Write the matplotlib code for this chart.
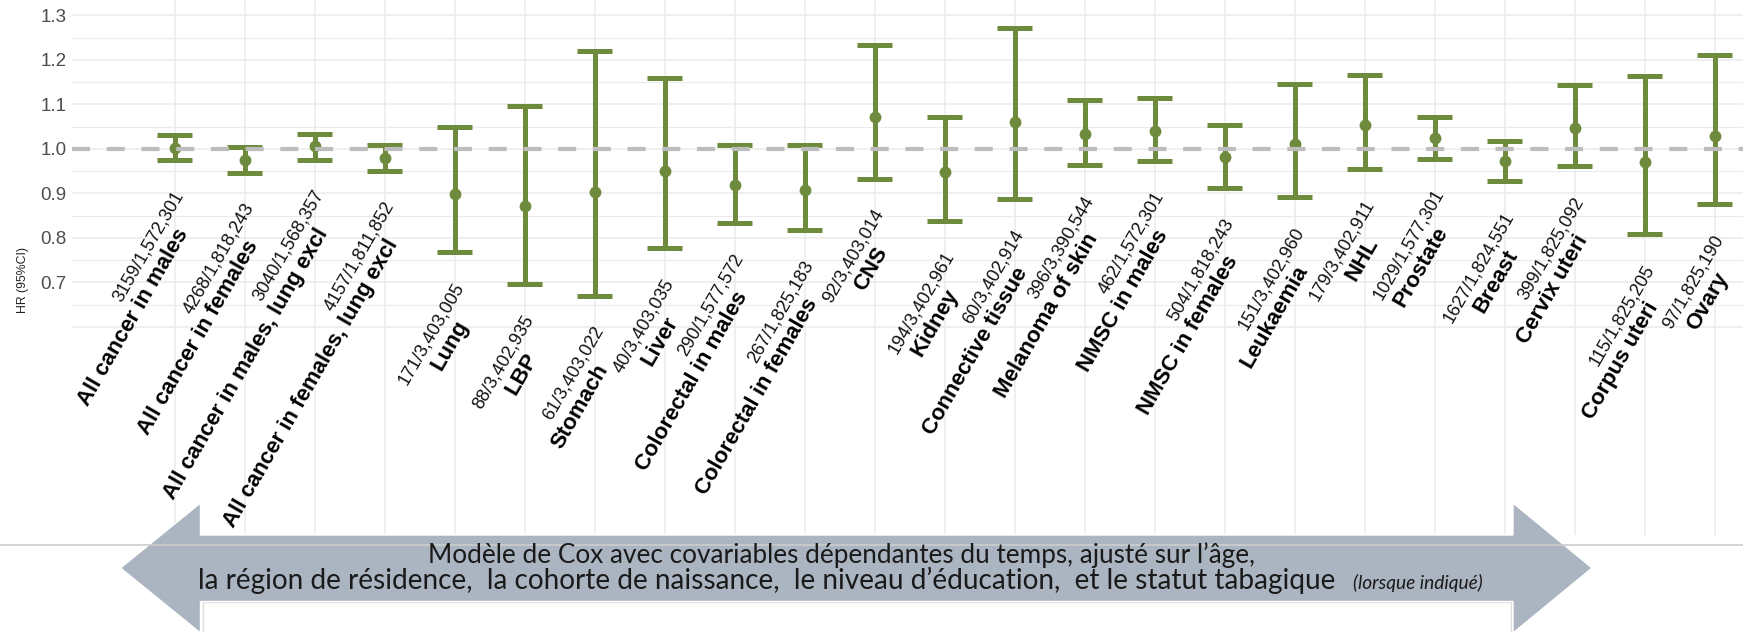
import matplotlib.pyplot as plt
from matplotlib.patches import Polygon, Rectangle

plt.rcParams['lines.scale_dashes'] = False

W, H = 1743, 632

# events / persons at risk
counts = ["3159/1,572,301", "4268/1,818,243", "3040/1,568,357", "4157/1,811,852",
          "171/3,403,005", "88/3,402,935", "61/3,403,022", "40/3,403,035",
          "290/1,577,572", "267/1,825,183", "92/3,403,014", "194/3,402,961",
          "60/3,402,914", "396/3,390,544", "462/1,572,301", "504/1,818,243",
          "151/3,402,960", "179/3,402,911", "1029/1,577,301", "1627/1,824,551",
          "399/1,825,092", "115/1,825,205", "97/1,825,190"]
names = ["All cancer in males", "All cancer in females",
         "All cancer in males, lung excl", "All cancer in females, lung excl",
         "Lung", "LBP", "Stomach", "Liver", "Colorectal in males",
         "Colorectal in females", "CNS", "Kidney", "Connective tissue",
         "Melanoma of skin", "NMSC in males", "NMSC in females", "Leukaemia",
         "NHL", "Prostate", "Breast", "Cervix uteri", "Corpus uteri", "Ovary"]
hr = [1.002, 0.975, 1.007, 0.979, 0.898, 0.873, 0.904, 0.950, 0.918, 0.908,
      1.073, 0.948, 1.061, 1.034, 1.041, 0.981, 1.012, 1.055, 1.024, 0.972,
      1.048, 0.970, 1.030]
lower = [0.975, 0.947, 0.976, 0.951, 0.769, 0.696, 0.670, 0.777, 0.834, 0.818,
         0.933, 0.839, 0.888, 0.963, 0.972, 0.913, 0.892, 0.954, 0.978, 0.928,
         0.961, 0.809, 0.876]
upper = [1.031, 1.004, 1.034, 1.008, 1.049, 1.096, 1.220, 1.160, 1.008, 1.008,
         1.234, 1.071, 1.271, 1.111, 1.114, 1.054, 1.146, 1.166, 1.073, 1.019,
         1.143, 1.164, 1.212]

y_major = [0.6, 0.7, 0.8, 0.9, 1.0, 1.1, 1.2, 1.3]
y_labels = ["", "0.7", "0.8", "0.9", "1.0", "1.1", "1.2", "1.3"]
y_minor = [0.65, 0.75, 0.85, 0.95, 1.05, 1.15, 1.25]

green = "#6E8B3D"
grid = "#ebebeb"

fig = plt.figure(figsize=(W / 100, H / 100), dpi=100)
ax = fig.add_axes([72 / W, 1 - 535 / H, 1 - 72 / W, 535 / H])
x = list(range(len(names)))

# grid
for v in y_major:
    ax.axhline(v, color=grid, lw=1.1, zorder=0)
for v in y_minor:
    ax.axhline(v, color=grid, lw=0.8, zorder=0)
for i in x:
    ax.axvline(i, color=grid, lw=1.1, zorder=0)

# error bars
ax.vlines(x, lower, upper, color=green, lw=3.6, zorder=2)
ax.hlines(lower, [i - 0.25 for i in x], [i + 0.25 for i in x], color=green, lw=3.6, zorder=2)
ax.hlines(upper, [i - 0.25 for i in x], [i + 0.25 for i in x], color=green, lw=3.6, zorder=2)
ax.plot(x, hr, 'o', color=green, ms=7.5, zorder=3)
ax.axhline(1.0, color="#bdbdbd", lw=3, dashes=(13, 12), zorder=4)

# labels under each bar
for i in x:
    ax.text(i + 0.07, lower[i] - 0.072, counts[i], rotation=60, rotation_mode='anchor',
            ha='right', va='center', fontsize=13, family='Liberation Sans',
            color='#111111', clip_on=True, zorder=1)
    ax.text(i + 0.12, lower[i] - 0.157, names[i], rotation=60, rotation_mode='anchor',
            ha='right', va='center', fontsize=16, fontweight='bold',
            family='Liberation Sans', color='#000000', clip_on=True, zorder=1)

ax.set_xlim(-1.47, 22.4)
ax.set_ylim(0.1326, 1.3348)
ax.set_xticks([])
ax.set_yticks(y_major)
ax.set_yticklabels(y_labels, fontsize=13.5, color='#4d4d4d', family='Liberation Sans')
ax.tick_params(axis='y', length=0, pad=4)
for s in ax.spines.values():
    s.set_visible(False)

fig.text(23 / W, 1 - 280 / H, "HR (95%CI)", rotation=90, ha='center', va='center',
         fontsize=8.8, family='Liberation Sans', color='#222222')

# overlay with the double arrow
ov = fig.add_axes([0, 0, 1, 1], zorder=5)
ov.set_xlim(0, W)
ov.set_ylim(H, 0)
ov.axis('off')
ov.patch.set_alpha(0)
ov.plot([0, W], [545, 545], color='#cccccc', lw=1.2)
ov.add_patch(Rectangle((203, 602), 1308, 40, fc='white', ec='#dddddd', lw=1))
arrow_x = [120.5, 200.5, 200.5, 1513, 1513, 1592, 1513, 1513, 200.5, 200.5]
arrow_y = [568, 503, 535, 535, 503, 568, 633, 601.5, 601.5, 633]
ov.add_patch(Polygon(list(zip(arrow_x, arrow_y)), closed=True, fc='#aab5c1', ec='white', lw=1))

t1 = ov.text(842, 555, "Modèle de Cox avec covariables dépendantes du temps, ajusté sur l’âge,",
             ha='center', va='center', fontsize=16, family='Lato', color='#1a1a1a')
t2 = ov.text(198, 589, "la région de résidence,  la cohorte de naissance,  le niveau d’éducation,  et le statut tabagique",
             ha='left', va='baseline', fontsize=16, family='Lato', color='#1a1a1a')
t3 = ov.text(1483, 589, "(lorsque indiqué)", ha='right', va='baseline', fontsize=11,
             family='Lato', style='italic', color='#1a1a1a')

fig.canvas.draw()
r = fig.canvas.get_renderer()
for t, width in [(t1, 828), (t2, 1147), (t3, 130)]:
    bb = t.get_window_extent(r)
    t.set_fontsize(t.get_fontsize() * width / bb.width)

fig.savefig("out.png", dpi=100)
